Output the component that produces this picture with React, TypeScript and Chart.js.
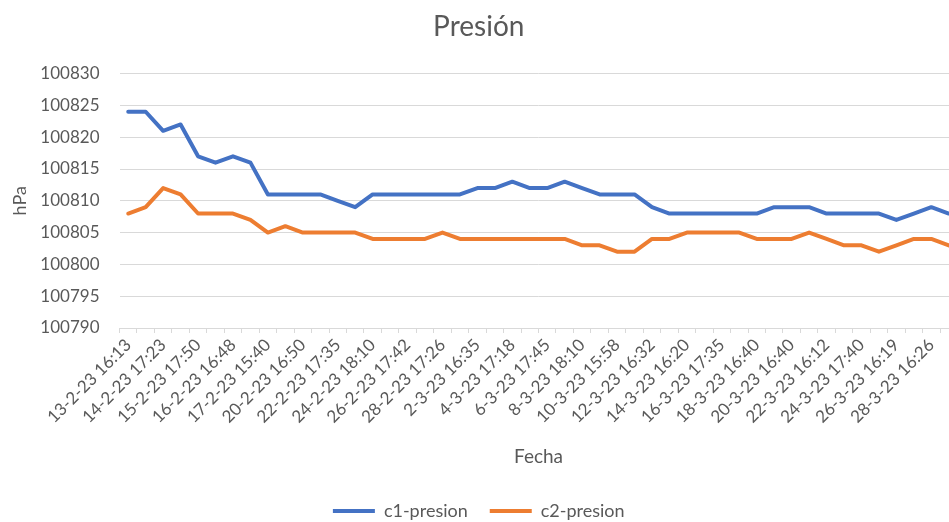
import React, { useEffect, useRef } from 'react';
import { Chart, registerables } from 'chart.js';

Chart.register(...registerables);

// Visible tick labels (Excel shows every second category)
const dateLabels = [
  '13-2-23 16:13', '14-2-23 17:23', '15-2-23 17:50', '16-2-23 16:48',
  '17-2-23 15:40', '20-2-23 16:50', '22-2-23 17:35', '24-2-23 18:10',
  '26-2-23 17:42', '28-2-23 17:26', '2-3-23 16:35', '4-3-23 17:18',
  '6-3-23 17:45', '8-3-23 18:10', '10-3-23 15:58', '12-3-23 16:32',
  '14-3-23 16:20', '16-3-23 17:35', '18-3-23 16:40', '20-3-23 16:40',
  '22-3-23 16:12', '24-3-23 17:40', '26-3-23 16:19', '28-3-23 16:26',
];

const c1Presion = [
  100824, 100824, 100821, 100822, 100817, 100816, 100817, 100816,
  100811, 100811, 100811, 100811, 100810, 100809, 100811, 100811,
  100811, 100811, 100811, 100811, 100812, 100812, 100813, 100812,
  100812, 100813, 100812, 100811, 100811, 100811, 100809, 100808,
  100808, 100808, 100808, 100808, 100808, 100809, 100809, 100809,
  100808, 100808, 100808, 100808, 100807, 100808, 100809, 100808,
];

const c2Presion = [
  100808, 100809, 100812, 100811, 100808, 100808, 100808, 100807,
  100805, 100806, 100805, 100805, 100805, 100805, 100804, 100804,
  100804, 100804, 100805, 100804, 100804, 100804, 100804, 100804,
  100804, 100804, 100803, 100803, 100802, 100802, 100804, 100804,
  100805, 100805, 100805, 100805, 100804, 100804, 100804, 100805,
  100804, 100803, 100803, 100802, 100803, 100804, 100804, 100803,
];

// categories: labelled ones at even positions, unlabelled in between
const categories = c1Presion.map((_, i) => (i % 2 === 0 ? dateLabels[i / 2] ?? '' : ''));

const yMin = 100790;
const yMax = 100830;
const yStep = 5;

export default function App() {
  const ref = useRef<HTMLCanvasElement>(null);

  useEffect(() => {
    const FONT = 'Lato, "Open Sans", sans-serif';
    const GRAY = '#595959';
    const GRID = '#D9D9D9';
    const chart = new Chart(ref.current as HTMLCanvasElement, {
      type: 'line',
      data: {
        labels: categories,
        datasets: [
          {
            label: 'c1-presion',
            data: c1Presion,
            borderColor: '#4472C4',
            backgroundColor: '#4472C4',
            borderWidth: 4,
            pointRadius: 0,
            tension: 0,
            borderJoinStyle: 'round',
            borderCapStyle: 'round',
          },
          {
            label: 'c2-presion',
            data: c2Presion,
            borderColor: '#ED7D31',
            backgroundColor: '#ED7D31',
            borderWidth: 4,
            pointRadius: 0,
            tension: 0,
            borderJoinStyle: 'round',
            borderCapStyle: 'round',
          },
        ],
      },
      options: {
        responsive: false,
        animation: false,
        layout: { padding: { left: 0, right: 10.5, top: 0, bottom: 0 } },
        plugins: {
          title: {
            display: true,
            text: 'Presión',
            color: GRAY,
            font: { family: FONT, size: 28, weight: 'normal' },
            padding: { top: 10, bottom: 30 },
          },
          legend: {
            position: 'bottom',
            labels: {
              color: GRAY,
              font: { family: FONT, size: 18 },
              boxWidth: 42,
              boxHeight: 4,
              padding: 22,
              generateLabels: (c: any) =>
                (Chart.defaults.plugins.legend.labels.generateLabels as any)(c).map((l: any) => ({
                  ...l,
                  lineWidth: 0,
                })),
            },
          },
          tooltip: { enabled: false },
        },
        scales: {
          x: {
            offset: true,
            grid: {
              offset: true,
              drawOnChartArea: false,
              drawTicks: true,
              tickLength: 5,
              color: GRID,
            },
            border: { color: GRID },
            ticks: {
              autoSkip: false,
              maxRotation: 45,
              minRotation: 45,
              color: GRAY,
              font: { family: FONT, size: 17 },
              padding: 2,
            },
            title: {
              display: true,
              text: 'Fecha',
              color: GRAY,
              font: { family: FONT, size: 19 },
              padding: { top: 0, bottom: 12 },
            },
            afterFit: (s: any) => {
              s.height = 152;
            },
          },
          y: {
            min: yMin,
            max: yMax,
            ticks: {
              stepSize: yStep,
              color: GRAY,
              font: { family: FONT, size: 17 },
              padding: 20,
              callback: (v: any) => String(v),
            },
            grid: { color: GRID, drawTicks: false },
            border: { display: false },
            title: {
              display: true,
              text: 'hPa',
              color: GRAY,
              font: { family: FONT, size: 18 },
              padding: { top: 9, bottom: 0 },
            },
            afterFit: (s: any) => {
              s.width = 119.5;
            },
          },
        },
      },
    } as any);
    return () => chart.destroy();
  }, []);

  return (
    <div
      style={{
        position: 'absolute',
        left: 0,
        top: 0,
        width: 949,
        height: 522,
        overflow: 'hidden',
        background: '#ffffff',
      }}
    >
      <canvas ref={ref} width={968} height={530} style={{ display: 'block' }} />
    </div>
  );
}
